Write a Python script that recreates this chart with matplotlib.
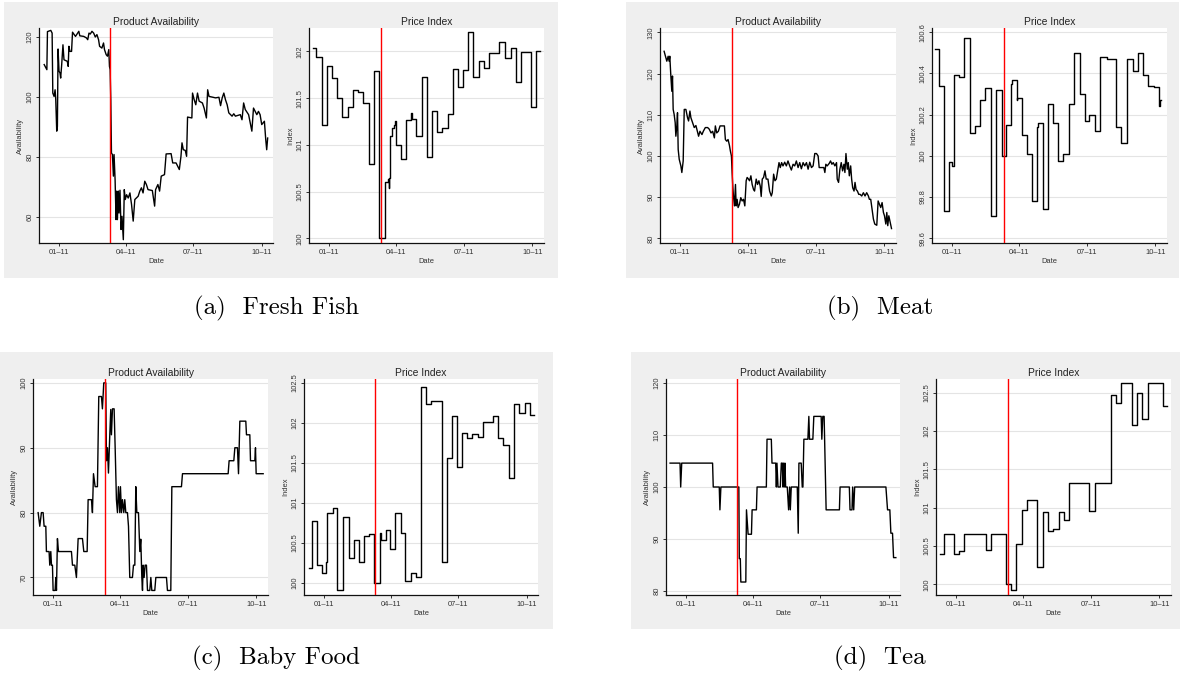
import datetime as dt

import matplotlib
matplotlib.use('Agg')
import matplotlib.pyplot as plt
import matplotlib.dates as mdates
from matplotlib.patches import Rectangle
from matplotlib.ticker import FuncFormatter

# days are counted from 1 January 2011
START = dt.datetime(2011, 1, 1)
QUAKE = dt.datetime(2011, 3, 11)
TICK_DATES = [dt.datetime(2011, 1, 1), dt.datetime(2011, 4, 1),
              dt.datetime(2011, 7, 1), dt.datetime(2011, 10, 1)]
TICK_LABELS = ['01\u201311', '04\u201311', '07\u201311', '10\u201311']

# (a) fresh fish
fish_av_days = [-20.0, -16.4, -15.6, -11.1, -9.3, -8.4, -6.7, -5.3, -4.4, -3.1,
                -2.2, -1.3, 0.0, 1.3, 2.2, 3.6, 5.3, 6.7, 11.1, 12.4,
                13.3, 14.7, 16.9, 18.2, 22.2, 26.7, 28.0, 33.3, 36.9, 38.7,
                40.4, 42.2, 44.4, 46.7, 48.9, 51.1, 53.3, 54.7, 57.8, 60.0,
                61.3, 63.6, 65.3, 67.1, 68.0, 68.9, 69.8, 70.7, 72.0, 73.3,
                74.2, 75.6, 76.9, 77.8, 78.7, 80.0, 80.9, 82.2, 83.6, 84.9,
                86.7, 88.0, 89.3, 91.1, 93.3, 95.6, 97.8, 100.0, 102.2, 106.7,
                108.9, 111.1, 113.3, 115.6, 117.8, 120.0, 125.8, 128.9, 130.2, 133.3,
                135.6, 137.8, 142.2, 144.4, 151.1, 153.3, 157.8, 160.0, 162.2, 164.4,
                165.8, 167.6, 170.2, 172.0, 173.3, 179.1, 180.0, 182.2, 184.4, 186.7,
                188.9, 193.3, 195.6, 198.7, 200.4, 202.2, 211.1, 215.6, 217.8, 220.0,
                222.2, 224.4, 226.7, 228.9, 233.3, 235.6, 237.8, 244.4, 246.7, 248.9,
                251.1, 255.6, 257.8, 260.0, 262.2, 266.7, 268.9, 271.1, 273.3, 276.9,
                278.7, 280.0, 281.3]
fish_av = [110.8, 109.1, 121.8, 122.2, 121.3, 101.3, 100.2, 102.4, 99.1, 88.6,
           90.2, 116.0, 108.6, 108.0, 106.3, 110.8, 117.4, 112.4, 111.9, 110.2,
           116.9, 115.2, 115.2, 121.6, 120.2, 121.9, 120.4, 120.2, 119.7, 119.1,
           121.3, 121.0, 121.9, 121.3, 120.0, 120.8, 119.1, 116.9, 116.3, 118.0,
           115.8, 114.1, 113.6, 115.8, 110.2, 109.1, 99.1, 81.3, 80.8, 73.6,
           80.8, 72.4, 59.1, 68.6, 59.1, 68.6, 61.3, 68.9, 55.8, 60.2,
           52.4, 69.1, 65.8, 67.4, 66.3, 68.0, 64.1, 58.6, 65.8, 66.9,
           68.6, 69.7, 68.0, 71.9, 70.8, 69.1, 68.8, 63.6, 69.1, 70.8,
           68.6, 73.6, 74.1, 81.0, 81.1, 78.0, 78.0, 76.9, 75.8, 80.2,
           84.7, 82.4, 82.2, 80.2, 93.3, 93.0, 101.3, 99.1, 97.4, 101.3,
           98.6, 98.0, 96.3, 93.0, 102.4, 100.2, 99.7, 99.9, 97.1, 99.7,
           101.3, 99.1, 97.4, 94.7, 93.6, 94.4, 93.6, 94.1, 92.4, 98.0,
           95.8, 94.1, 91.3, 88.6, 96.3, 94.1, 95.2, 94.1, 90.8, 91.9,
           85.8, 82.4, 86.3]
fish_px_days = [-21.5, -17.0, -9.4, -2.7, 4.0, 11.2, 17.5, 25.6, 32.3, 39.0,
                45.7, 53.4, 60.5, 67.3, 74.9, 78.5, 80.3, 80.7, 82.1, 83.9,
                84.8, 87.0, 88.3, 89.2, 96.0, 102.7, 109.9, 110.8, 116.6, 124.2,
                130.9, 138.6, 145.3, 152.0, 159.2, 165.9, 173.5, 180.3, 187.0, 193.7,
                201.3, 208.5, 215.2, 228.7, 236.3, 243.9, 251.1, 257.8, 271.3, 278.0,
                283.4]
fish_px = [102.04, 101.94, 101.21, 101.84, 101.72, 101.50, 101.30, 101.40, 101.59, 101.56,
           101.45, 100.79, 101.79, 100.00, 100.60, 100.63, 100.54, 100.65, 101.09, 101.12,
           101.18, 101.21, 101.26, 101.00, 100.85, 101.27, 101.34, 101.28, 101.09, 101.73,
           100.87, 101.36, 101.14, 101.18, 101.33, 101.81, 101.62, 101.80, 102.21, 101.73,
           101.90, 101.82, 101.98, 102.10, 101.93, 102.04, 101.67, 101.99, 101.41, 102.00,
           102.00]

# (b) meat
meat_av_days = [-21.5, -19.2, -17.9, -16.1, -14.8, -13.9, -12.5, -11.2, -10.3, -9.4,
                -8.1, -6.7, -5.8, -4.5, -3.6, -2.7, -1.3, 0.9, 2.2, 4.0,
                5.4, 7.6, 9.8, 11.2, 13.0, 14.3, 16.6, 18.8, 21.0, 23.3,
                24.6, 26.4, 29.1, 30.9, 33.6, 36.7, 38.9, 41.2, 43.4, 45.7,
                47.0, 48.8, 51.0, 53.3, 56.8, 59.1, 60.4, 62.2, 64.0, 65.8,
                67.1, 68.5, 69.4, 70.3, 71.2, 72.5, 73.9, 74.8, 76.1, 77.4,
                79.2, 81.0, 82.8, 84.6, 86.4, 88.2, 89.5, 90.9, 92.7, 94.5,
                96.2, 98.0, 99.4, 101.6, 103.4, 105.2, 107.0, 108.3, 109.7, 111.5,
                113.3, 115.0, 117.3, 119.5, 121.8, 123.1, 124.9, 126.7, 128.5, 130.3,
                132.1, 133.8, 135.6, 137.4, 139.7, 141.9, 144.1, 146.4, 148.6, 150.9,
                153.1, 155.3, 157.6, 159.8, 162.0, 164.3, 166.5, 168.8, 171.0, 173.2,
                175.5, 177.7, 179.9, 182.2, 184.4, 185.8, 188.9, 192.0, 193.4, 194.7,
                196.5, 199.2, 201.0, 202.8, 204.6, 206.8, 209.0, 209.9, 211.7, 213.5,
                215.3, 217.1, 218.9, 220.2, 221.6, 223.4, 224.7, 226.1, 227.9, 229.2,
                230.6, 232.4, 233.7, 235.1, 236.9, 238.7, 240.5, 242.7, 244.9, 247.1,
                249.3, 251.6, 252.9, 254.7, 256.5, 258.3, 260.1, 262.8, 264.6, 266.3,
                268.1, 269.9, 271.7, 273.1, 274.9, 276.2, 277.5, 278.9, 280.7, 282.5]
meat_av = [125.4, 123.8, 123.0, 124.2, 123.0, 124.2, 119.4, 115.7, 119.4, 111.3,
           110.1, 108.1, 104.8, 107.3, 110.5, 101.6, 99.2, 97.6, 96.0, 98.8,
           111.3, 111.3, 109.3, 108.5, 110.9, 109.3, 108.1, 106.9, 107.4, 105.8,
           104.8, 106.0, 105.2, 106.0, 106.9, 106.9, 106.5, 105.6, 106.0, 104.4,
           107.3, 105.6, 106.0, 107.3, 107.3, 107.3, 104.0, 103.6, 104.0, 102.6,
           101.2, 100.0, 96.0, 92.7, 90.3, 87.9, 93.1, 87.9, 89.5, 87.5,
           88.3, 89.9, 89.1, 89.5, 87.9, 94.0, 94.8, 94.5, 94.0, 95.2,
           93.1, 91.9, 91.5, 94.4, 93.1, 94.0, 92.7, 90.2, 94.4, 94.8,
           96.4, 94.4, 94.4, 91.5, 90.3, 91.1, 95.6, 94.0, 94.4, 96.4,
           98.4, 97.2, 98.4, 97.6, 98.5, 97.6, 98.8, 97.6, 96.6, 98.0,
           97.6, 98.8, 97.2, 98.4, 96.9, 98.4, 97.6, 98.4, 96.8, 98.5,
           97.2, 97.6, 100.6, 100.6, 100.0, 97.2, 97.2, 97.2, 96.0, 98.0,
           97.6, 98.2, 98.8, 98.0, 98.4, 97.6, 98.4, 94.4, 93.6, 96.8,
           98.4, 96.4, 98.0, 96.0, 100.6, 96.8, 98.4, 95.2, 97.6, 94.4,
           92.3, 91.5, 93.6, 91.9, 91.5, 90.7, 90.7, 90.3, 91.1, 90.3,
           91.1, 90.3, 89.5, 89.5, 87.1, 84.7, 83.5, 83.2, 89.1, 88.3,
           87.5, 88.7, 86.3, 85.5, 83.5, 86.3, 83.1, 85.5, 83.9, 82.4]
meat_px_days = [-23.3, -18.0, -11.2, -4.0, 0.4, 2.2, 9.4, 16.2, 23.8, 30.5,
                37.3, 44.0, 51.6, 58.8, 66.5, 72.3, 78.6, 80.8, 86.7, 87.6,
                93.4, 100.1, 107.8, 114.5, 115.8, 121.7, 129.3, 135.2, 142.8, 149.5,
                157.2, 163.9, 171.1, 177.8, 184.1, 191.3, 198.9, 207.9, 220.5, 227.2,
                234.8, 242.5, 249.2, 256.4, 263.1, 271.7, 277.5, 278.9, 281.1]
meat_px = [100.52, 100.34, 99.73, 99.97, 99.95, 100.39, 100.38, 100.57, 100.11, 100.145,
           100.27, 100.33, 99.71, 100.32, 100.00, 100.15, 100.35, 100.37, 100.27, 100.28,
           100.10, 100.01, 99.78, 100.14, 100.16, 99.74, 100.25, 100.16, 99.975, 100.01,
           100.25, 100.50, 100.30, 100.17, 100.20, 100.12, 100.48, 100.47, 100.14, 100.06,
           100.47, 100.41, 100.50, 100.39, 100.34, 100.335, 100.24, 100.27, 100.27]

# (c) baby food
baby_av_days = [-20.1, -17.9, -15.7, -13.4, -12.1, -9.8, -9.0, -5.4, -4.5, -3.1,
                -2.2, -0.9, 0.0, 2.7, 3.6, 4.5, 5.8, 7.2, 13.4, 24.6,
                26.0, 29.1, 31.3, 33.6, 39.4, 41.2, 45.7, 47.0, 51.5, 52.8,
                54.2, 56.4, 59.5, 61.3, 64.9, 66.2, 68.0, 70.7, 71.6, 73.0,
                74.3, 76.1, 77.4, 78.3, 79.7, 81.9, 83.3, 85.0, 86.4, 87.7,
                89.5, 90.4, 91.8, 93.1, 94.9, 96.2, 97.6, 99.8, 101.2, 102.9,
                106.5, 107.9, 109.7, 111.0, 112.4, 114.6, 116.4, 117.7, 119.1, 120.0,
                120.9, 122.2, 123.5, 125.3, 126.7, 129.8, 131.2, 132.5, 136.5, 137.9,
                152.2, 153.5, 158.0, 159.4, 172.3, 173.7, 235.0, 236.3, 242.6, 244.0,
                247.5, 248.9, 250.7, 258.7, 259.6, 264.1, 265.0, 270.8, 271.7, 272.6,
                282.0]
baby_av = [80, 77.9, 80, 80, 77.9, 77.9, 74, 74, 71.9, 74,
           71.9, 71.9, 68, 68, 70, 68, 76, 74, 74, 74,
           71.9, 71.9, 70, 76, 76, 74, 74, 82, 82, 80,
           86, 84, 84, 97.9, 97.9, 96, 100, 100, 88, 90,
           86.1, 92, 95.9, 92, 96, 96, 90, 82, 80, 84,
           80, 84, 80, 82, 80, 82, 80, 80, 77.9, 70,
           70, 71.9, 71.9, 84, 80, 80, 74, 75.9, 70, 68,
           71.9, 70, 71.9, 71.9, 68, 68, 70, 68, 68, 70,
           70, 68, 68, 84, 84, 86, 86, 88, 88, 90,
           90, 86, 94.1, 94.1, 92, 92, 88, 88, 90, 86,
           86]
baby_px_days = [-20.1, -15.6, -8.9, -2.2, 3.1, 4.5, 12.0, 17.8, 25.9, 33.5,
                40.1, 46.8, 54.4, 61.1, 67.8, 74.9, 76.3, 83.0, 89.2, 96.3,
                103.5, 109.7, 116.9, 123.5, 130.2, 136.9, 144.1, 151.7, 158.8, 165.9,
                172.2, 179.8, 186.4, 193.1, 199.8, 207.4, 214.1, 228.4, 235.1, 241.8,
                248.9, 256.5, 263.2, 270.3, 277.4, 283.2]
baby_px = [100.19, 100.77, 100.23, 100.13, 100.26, 100.87, 100.94, 99.91, 100.82, 100.31,
           100.54, 100.26, 100.59, 100.61, 100.00, 100.62, 100.54, 100.66, 100.43, 100.87,
           100.63, 100.03, 100.12, 100.08, 102.45, 102.24, 102.28, 102.27, 100.26, 101.56,
           102.09, 101.45, 101.87, 101.81, 101.86, 101.83, 102.01, 102.09, 101.81, 101.73,
           101.31, 102.24, 102.13, 102.25, 102.10, 102.10]

# (d) tea
tea_av_days = [-21.5, -8.1, -7.2, -5.8, 35.8, 36.7, 44.8, 45.7, 47.0, 71.2,
               71.8, 73.2, 73.9, 80.6, 81.5, 83.7, 88.2, 89.1, 94.9, 95.8,
               108.3, 109.2, 115.0, 115.9, 120.9, 121.8, 122.6, 124.0, 127.1, 128.5,
               129.8, 130.7, 131.6, 132.5, 133.4, 134.3, 136.5, 138.3, 139.7, 140.6,
               141.9, 150.0, 151.3, 152.2, 155.3, 156.7, 157.6, 158.9, 164.3, 165.6,
               166.5, 171.0, 172.3, 182.2, 183.1, 184.4, 186.2, 188.9, 206.8, 207.7,
               220.2, 221.1, 223.8, 224.7, 226.1, 227.4, 269.5, 271.7, 274.8, 276.2,
               278.4, 279.8, 282.9]
tea_av = [104.6, 104.6, 100, 104.6, 104.6, 100, 100, 95.6, 100, 100,
          86.2, 86.2, 81.7, 81.7, 95.6, 90.9, 90.9, 95.6, 95.6, 100,
          100, 109.2, 109.2, 104.6, 104.6, 100, 104.6, 100, 100, 104.6,
          104.6, 100, 104.6, 100, 104.6, 100, 100, 95.6, 100, 95.6,
          100, 100, 91.1, 104.6, 104.6, 100, 100, 109.2, 109.2, 113.6,
          109.2, 109.2, 113.6, 113.6, 109.2, 113.6, 113.6, 95.6, 95.6, 100,
          100, 95.6, 95.6, 100, 95.6, 100, 100, 95.6, 95.6, 91.1,
          91.1, 86.4, 86.4]
tea_px_days = [-21.6, -16.6, -3.1, 3.6, 11.2, 39.5, 46.3, 67.4, 74.1, 80.8,
               88.5, 95.2, 109.1, 116.7, 123.5, 130.2, 137.9, 145.0, 151.8, 178.7,
               186.4, 207.5, 214.6, 221.4, 236.6, 243.4, 250.1, 257.3, 278.4, 282.9]
tea_px = [100.39, 100.66, 100.39, 100.44, 100.66, 100.45, 100.66, 100.00, 99.92, 100.52,
          100.97, 101.10, 100.23, 100.94, 100.69, 100.72, 100.94, 100.84, 101.32, 100.96,
          101.32, 102.47, 102.37, 102.63, 102.08, 102.50, 102.16, 102.63, 102.33, 102.33]

W, H = 1184, 679
SANS = 'Liberation Sans'
BG = '#efefef'

fig = plt.figure(figsize=(W / 100, H / 100), dpi=100)
fig.patch.set_facecolor('white')


def box(x0, y0, x1, y1):
	return [x0 / W, 1 - y1 / H, (x1 - x0) / W, (y1 - y0) / H]


def gray(x0, y0, x1, y1):
	fig.patches.append(Rectangle((x0 / W, 1 - y1 / H), (x1 - x0) / W, (y1 - y0) / H,
	                             transform=fig.transFigure, facecolor=BG,
	                             edgecolor='none', zorder=-5))


def to_dates(days):
	return [START + dt.timedelta(days=d) for d in days]


def panel(rect, days, vals, ylim, yticks, ylabel, title, step=False):
	ax = fig.add_axes(box(*rect))
	ax.set_facecolor('white')
	ax.plot(to_dates(days), vals, color='black', lw=1.0,
	        drawstyle='steps-post' if step else 'default', zorder=3)
	ax.axvline(QUAKE, color='red', lw=1.0, zorder=4)
	ax.set_xlim(START + dt.timedelta(days=-27), START + dt.timedelta(days=288.5))
	ax.set_ylim(*ylim)
	ax.set_xticks([mdates.date2num(d) for d in TICK_DATES])
	ax.set_xticklabels(TICK_LABELS)
	ax.set_yticks(yticks)
	ax.yaxis.set_major_formatter(FuncFormatter(lambda v, p: '%g' % round(v, 2)))
	ax.yaxis.grid(True, color='#e4e4e4', lw=0.8)
	ax.set_axisbelow(True)
	for s in ('top', 'right'):
		ax.spines[s].set_visible(False)
	for s in ('left', 'bottom'):
		ax.spines[s].set_linewidth(0.9)
		ax.spines[s].set_color('#111111')
	ax.tick_params(axis='both', length=2.5, width=0.6, labelsize=5.4, pad=1.5,
	               color='#111111', labelcolor='#333333')
	for t in ax.get_yticklabels():
		t.set_rotation(90)
		t.set_va('center')
	for t in ax.get_xticklabels() + ax.get_yticklabels():
		t.set_fontfamily(SANS)
	ax.set_xlabel('Date', fontsize=5.4, fontfamily=SANS, labelpad=1.5, color='#333333')
	ax.set_ylabel(ylabel, fontsize=5.4, fontfamily=SANS, labelpad=1.5, color='#333333')
	ax.set_title(title, fontsize=7.4, fontfamily=SANS, pad=2.5, color='#222222')
	return ax


# gray graph regions
gray(4, 2, 558, 278)
gray(626, 2, 1179, 278)
gray(0, 352, 553, 629)
gray(631, 352, 1180, 629)

panel((39, 28, 273, 243), fish_av_days, fish_av, (51.3, 123), [60, 80, 100, 120],
      'Availability', 'Product Availability')
panel((309, 28, 544, 243), fish_px_days, fish_px, (99.95, 102.25),
      [100, 100.5, 101, 101.5, 102], 'Index', 'Price Index', step=True)

panel((660, 28, 896, 243), meat_av_days, meat_av, (78.9, 131.05),
      [80, 90, 100, 110, 120, 130], 'Availability', 'Product Availability')
panel((932, 28, 1167, 243), meat_px_days, meat_px, (99.577, 100.62),
      [99.6, 99.8, 100, 100.2, 100.4, 100.6], 'Index', 'Price Index', step=True)

panel((33, 379, 268, 595), baby_av_days, baby_av, (67.3, 100.6),
      [70, 80, 90, 100], 'Availability', 'Product Availability')
panel((304, 379, 538, 595), baby_px_days, baby_px, (99.85, 102.55),
      [100, 100.5, 101, 101.5, 102, 102.5], 'Index', 'Price Index', step=True)

panel((666, 379, 900, 595), tea_av_days, tea_av, (79.2, 120.8),
      [80, 90, 100, 110, 120], 'Availability', 'Product Availability')
panel((936, 379, 1171, 595), tea_px_days, tea_px, (99.86, 102.68),
      [100, 100.5, 101, 101.5, 102, 102.5], 'Index', 'Price Index', step=True)

# sub-figure captions
caps = [(276, 308, '(a)  Fresh Fish'), (880, 308, '(b)  Meat'),
        (276, 658, '(c)  Baby Food'), (880, 658, '(d)  Tea')]
for cx, cy, txt in caps:
	fig.text(cx / W, 1 - cy / H, txt, fontfamily='cmr10', fontsize=18,
	         ha='center', va='center')

fig.savefig('out.png', dpi=100, facecolor='white')
